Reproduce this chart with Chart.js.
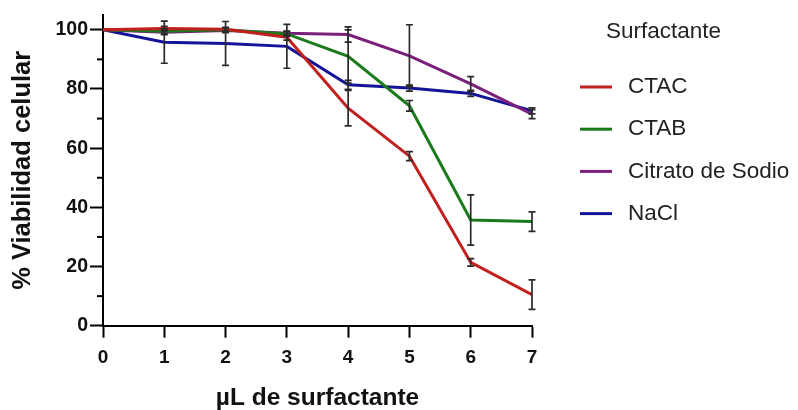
<!DOCTYPE html>
<html>
<head>
<meta charset="utf-8">
<script src="https://cdn.jsdelivr.net/npm/chart.js@4.4.0/dist/chart.umd.min.js"></script>
<style>
  body { margin: 0; background: #fff; }
  #wrap { width: 798px; height: 410px; }
</style>
</head>
<body>
<div id="wrap"><canvas id="myChart" width="798" height="410"></canvas></div>
<script>
// dose of surfactant (µL) and % cell viability per surfactant, with error bars
const doses = [0, 1, 2, 3, 4, 5, 6, 7];

const ctac = [100, 100.4, 100.2, 97.5, 73.5, 57.3, 21.4, 10.5];
const ctacErr = [0, 0.8, 0.6, 1.0, 6.0, 1.5, 1.3, 5.0];

const ctab = [100, 99.5, 100.0, 98.6, 91.0, 74.3, 35.7, 35.2];
const ctabErr = [0, 0.8, 0.6, 0.8, 9.0, 1.8, 8.5, 3.3];

const citrato = [100, 99.2, 99.8, 98.8, 98.4, 91.2, 81.7, 71.5];
const citratoErr = [0, 0.8, 0.8, 0.8, 2.6, 10.5, 2.5, 1.5];

const nacl = [100, 95.8, 95.4, 94.4, 81.4, 80.3, 78.5, 72.6];
const naclErr = [0, 7.1, 7.4, 7.4, 1.5, 1.0, 1.0, 1.0];

const xTicks = [0, 1, 2, 3, 4, 5, 6, 7];
const yTicks = [0, 20, 40, 60, 80, 100];
const yMinorTicks = [10, 30, 50, 70, 90];

const FONT = "'Liberation Sans', Arial, sans-serif";

function series(label, values, errors, color) {
  return {
    label: label,
    data: doses.map((d, i) => ({ x: d, y: values[i] })),
    errors: errors,
    borderColor: color,
    backgroundColor: color,
    borderWidth: 3,
    pointRadius: 0,
    tension: 0,
    fill: false,
  };
}

// vertical error bars with caps, drawn on top of the lines
const errorBars = {
  id: "errorBars",
  afterDatasetsDraw(chart) {
    const ctx = chart.ctx;
    const y = chart.scales.y;
    ctx.save();
    ctx.strokeStyle = "#2b2b2b";
    ctx.lineWidth = 1.7;
    chart.data.datasets.forEach((ds, di) => {
      const meta = chart.getDatasetMeta(di);
      meta.data.forEach((pt, i) => {
        const e = ds.errors[i];
        if (!e) return;
        const v = ds.data[i].y;
        const top = y.getPixelForValue(v + e);
        const bot = y.getPixelForValue(v - e);
        ctx.beginPath();
        ctx.moveTo(pt.x, top);
        ctx.lineTo(pt.x, bot);
        ctx.moveTo(pt.x - 3.5, top);
        ctx.lineTo(pt.x + 3.5, top);
        ctx.moveTo(pt.x - 3.5, bot);
        ctx.lineTo(pt.x + 3.5, bot);
        ctx.stroke();
      });
    });
    ctx.restore();
  },
};

// short unlabeled ticks between the labeled ones on the y axis
const minorTicks = {
  id: "minorTicks",
  afterDraw(chart) {
    const ctx = chart.ctx;
    const y = chart.scales.y;
    const x0 = chart.chartArea.left;
    ctx.save();
    ctx.strokeStyle = "#000";
    ctx.lineWidth = 2;
    yMinorTicks.forEach((v) => {
      const py = y.getPixelForValue(v);
      ctx.beginPath();
      ctx.moveTo(x0 - 6, py);
      ctx.lineTo(x0, py);
      ctx.stroke();
    });
    ctx.restore();
  },
};

// legend on the right: title, then a line sample and name per dataset
const sideLegend = {
  id: "sideLegend",
  afterDraw(chart, args, opts) {
    const ctx = chart.ctx;
    ctx.save();
    ctx.fillStyle = "#222";
    ctx.textBaseline = "middle";
    ctx.font = "22.5px " + FONT;
    ctx.textAlign = "left";
    ctx.fillText(opts.title, opts.titleX, opts.titleY);
    chart.data.datasets.forEach((ds, i) => {
      const yy = opts.top + i * opts.spacing;
      ctx.strokeStyle = ds.borderColor;
      ctx.lineWidth = 3;
      ctx.beginPath();
      ctx.moveTo(opts.left, yy);
      ctx.lineTo(opts.left + 32, yy);
      ctx.stroke();
      ctx.fillStyle = "#222";
      ctx.fillText(ds.label, opts.left + 48, yy);
    });
    ctx.restore();
  },
};

const ctx = document.getElementById("myChart").getContext("2d");

const myChart = new Chart(ctx, {
  type: "line",
  data: {
    datasets: [
      series("CTAC", ctac, ctacErr, "#c0201e"),
      series("CTAB", ctab, ctabErr, "#1b7a1b"),
      series("Citrato de Sodio", citrato, citratoErr, "#7a1f7a"),
      series("NaCl", nacl, naclErr, "#14149a"),
    ],
  },
  options: {
    responsive: false,
    animation: false,
    layout: { padding: { top: 15, right: 266, left: 0, bottom: 0 } },
    plugins: {
      legend: { display: false },
      tooltip: { enabled: false },
      sideLegend: {
        title: "Surfactante",
        titleX: 606,
        titleY: 32,
        left: 580,
        top: 87,
        spacing: 42.2,
      },
    },
    scales: {
      x: {
        type: "linear",
        min: 0,
        max: 7,
        afterBuildTicks: (s) => { s.ticks = xTicks.map((v) => ({ value: v })); },
        afterFit: (s) => { s.height = 84.3; },
        ticks: {
          font: { family: FONT, size: 19, weight: "bold" },
          color: "#111",
          padding: 9,
        },
        grid: {
          display: true,
          drawOnChartArea: false,
          tickLength: 12,
          tickWidth: 2,
          tickColor: "#000",
        },
        border: { color: "#000", width: 2 },
        title: {
          display: true,
          text: "µL de surfactante",
          font: { family: FONT, size: 24.5, weight: "bold", lineHeight: 1 },
          color: "#111",
          padding: { top: 0, bottom: 0 },
        },
      },
      y: {
        min: 0,
        max: 105,
        afterBuildTicks: (s) => { s.ticks = yTicks.map((v) => ({ value: v })); },
        afterFit: (s) => { s.width = 103; },
        ticks: {
          font: { family: FONT, size: 19.5, weight: "bold" },
          color: "#111",
          padding: 2,
        },
        grid: {
          display: true,
          drawOnChartArea: false,
          tickLength: 13,
          tickWidth: 2,
          tickColor: "#000",
        },
        border: { color: "#000", width: 2 },
        title: {
          display: true,
          text: "% Viabilidad celular",
          font: { family: FONT, size: 25.5, weight: "bold", lineHeight: 1 },
          color: "#111",
          padding: { top: 10, bottom: 0 },
        },
      },
    },
  },
  plugins: [errorBars, minorTicks, sideLegend],
});
</script>
</body>
</html>
